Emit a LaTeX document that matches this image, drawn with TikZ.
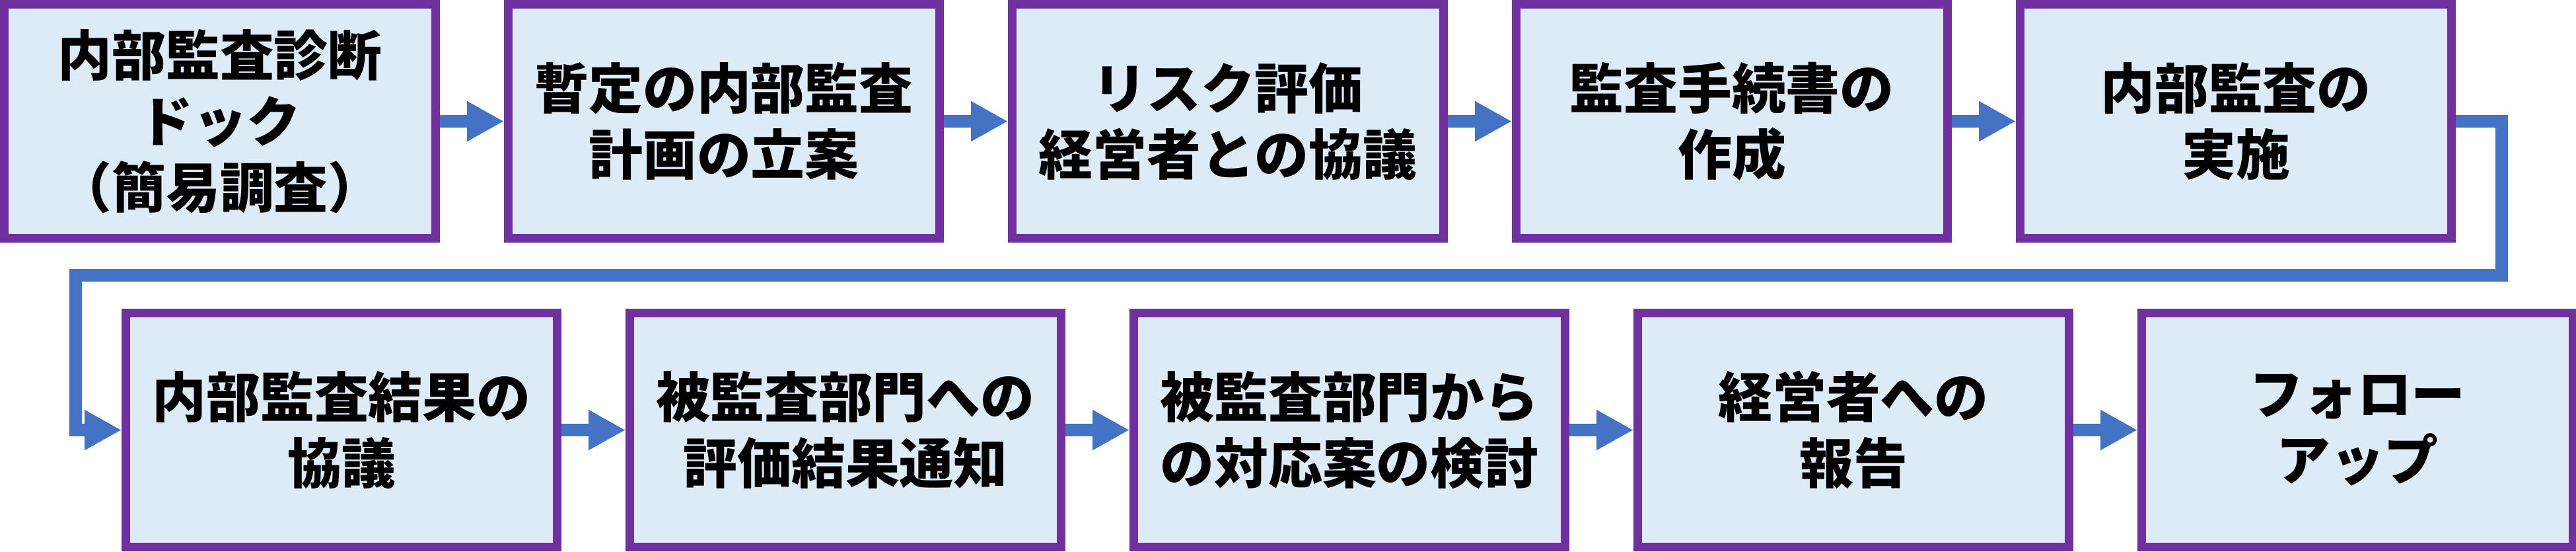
\documentclass[tikz,border=0pt]{standalone}
\usepackage{fontspec}
\setmainfont{Noto Sans CJK JP}
\usepackage{tikz}
\usetikzlibrary{arrows.meta,calc,positioning}
\definecolor{BoxFill}{HTML}{DDEBF7}
\definecolor{BoxLine}{HTML}{7030A0}
\definecolor{FlowBlue}{HTML}{4472C4}

\begin{document}
\begin{tikzpicture}[
    stepbox/.style={
      fill=BoxFill,
      draw=BoxLine,
      line width=0.13cm,
      minimum width=6.53cm,
      minimum height=3.54cm,
      inner sep=0pt,
      align=center,
      font=\fontsize{23.3}{28.4}\selectfont\bfseries
    },
    flow/.style={
      FlowBlue,
      line width=0.19cm,
      -{Triangle[length=0.56cm,width=0.57cm]}
    }
  ]
  \useasboundingbox (0,0) rectangle (39,8.34);
  % first row
  \node[stepbox] (diag) at (3.33,6.505) {内部監査診断\\ドック\\（簡易調査）};
  \node[stepbox,right=0.97cm of diag] (plan) {暫定の内部監査\\計画の立案};
  \node[stepbox,right=0.97cm of plan] (risk) {リスク評価\\経営者との協議};
  \node[stepbox,right=0.97cm of risk] (proc) {監査手続書の\\作成};
  \node[stepbox,right=0.97cm of proc] (exec) {内部監査の\\実施};
  % second row
  \node[stepbox] (disc) at (5.17,1.835) {内部監査結果の\\協議};
  \node[stepbox,right=0.97cm of disc] (noti) {被監査部門への\\評価結果通知};
  \node[stepbox,right=0.97cm of noti] (resp) {被監査部門から\\の対応案の検討};
  \node[stepbox,right=0.97cm of resp] (repo) {経営者への\\報告};
  \node[stepbox,right=0.97cm of repo] (follow) {フォロー\\アップ};

  \coordinate (mid) at (0,4.17);
  \foreach \a/\b in {diag/plan,plan/risk,risk/proc,proc/exec,disc/noti,noti/resp,resp/repo,repo/follow}
    \draw[flow] (\a.east) -- (\b.west);
  \draw[flow] (exec.east) -- ++(0.69,0) coordinate (turn)
    -- (turn |- mid) -- ([xshift=-0.7cm]disc.west |- mid)
    -- ([xshift=-0.7cm]disc.west) -- (disc.west);
\end{tikzpicture}
\end{document}
